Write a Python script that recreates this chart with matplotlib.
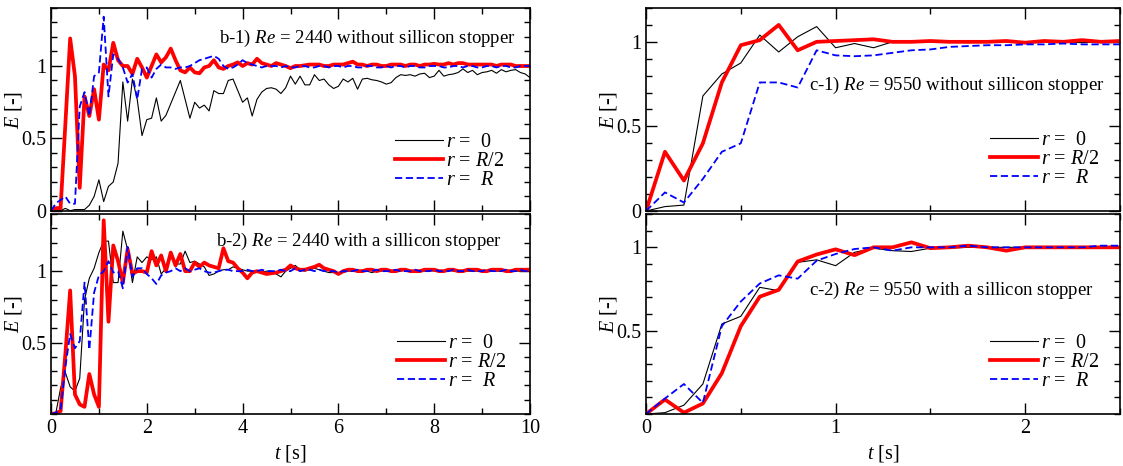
import numpy as np
import matplotlib
matplotlib.use("Agg")
import matplotlib.pyplot as plt
from matplotlib.ticker import MultipleLocator

plt.rcParams["font.family"] = ["Liberation Serif", "DejaVu Serif"]
plt.rcParams["mathtext.fontset"] = "custom"
plt.rcParams["mathtext.rm"] = "Liberation Serif"
plt.rcParams["mathtext.it"] = "Liberation Serif:italic"

# time grids [s]
t_b = np.round(np.arange(101) * 0.1, 1)
t_c = np.round(np.arange(26) * 0.1, 1)

labels = ["$r$ =  0", "$r$ = $R$/2", "$r$ =  $R$"]

# b-1) Re = 2440 without stopper
b1_center = [0, 0.007, 0.003, 0.018, 0.002, 0.01, 0.01, 0.01, 0.04, 0.10,
             0.215, 0.065, 0.17, 0.20, 0.33, 0.89, 0.62, 0.91, 0.77, 0.52,
             0.63, 0.64, 0.78, 0.62, 0.66, 0.74, 0.82, 0.90, 0.77, 0.64,
             0.75, 0.71, 0.73, 0.69, 0.83, 0.81, 0.81, 0.90, 0.91, 0.83,
             0.75, 0.78, 0.655, 0.77, 0.82, 0.845, 0.85, 0.84, 0.81, 0.85,
             0.93, 0.875, 0.93, 0.87, 0.87, 0.94, 0.90, 0.91, 0.87, 0.845,
             0.86, 0.91, 0.89, 0.915, 0.84, 0.91, 0.915, 0.905, 0.90, 0.89,
             0.875, 0.885, 0.92, 0.94, 0.935, 0.94, 0.93, 0.945, 0.95, 0.92,
             0.93, 0.97, 0.93, 0.94, 0.945, 0.955, 0.98, 0.955, 0.97, 0.94,
             0.955, 0.96, 0.97, 0.95, 0.975, 0.96, 0.97, 0.975, 0.955, 0.945,
             0.92]
b1_half = [0, 0.02, 0.02, 0.60, 1.19, 0.93, 0.16, 0.79, 0.655, 0.84,
           0.63, 1.01, 0.97, 1.16, 1.04, 1.0, 1.0, 0.945, 1.05, 0.99,
           0.92, 1.0, 1.08, 1.025, 1.06, 1.12, 1.04, 0.97, 0.956, 0.99,
           0.956, 0.95, 0.99, 1.0, 1.04, 0.99, 0.98, 1.0, 1.01, 1.025,
           1.0, 1.02, 1.01, 1.05, 1.02, 1.01, 1.0, 1.02, 1.01, 1.0,
           0.985, 1.0, 1.0, 1.005, 1.01, 1.01, 1.01, 1.0, 1.0, 1.01,
           1.01, 1.01, 1.02, 1.03, 1.01, 1.01, 1.0, 1.01, 1.01, 1.0,
           1.0, 1.01, 1.01, 1.01, 1.0, 1.01, 1.01, 1.0, 1.01, 1.01,
           1.015, 1.01, 1.01, 1.02, 1.01, 1.02, 1.02, 1.01, 1.01, 1.01,
           1.01, 1.01, 1.01, 1.0, 1.01, 1.01, 1.01, 1.0, 1.0, 1.0,
           1.0]
b1_wall = [0, 0.053, 0.076, 0.10, 0.05, 0.05, 0.72, 0.82, 0.655, 0.93,
           0.955, 1.34, 0.79, 1.08, 1.05, 0.99, 0.886, 0.945, 0.77, 0.98,
           0.99, 0.92, 0.98, 1.01, 0.99, 0.99, 0.98, 0.99, 0.99, 1.0,
           1.02, 1.04, 1.05, 1.06, 1.07, 1.05, 1.0, 0.98, 0.99, 1.01,
           1.04, 1.02, 1.01, 1.0, 0.99, 1.0, 1.0, 1.0, 0.99, 1.0,
           0.99, 0.99, 1.0, 1.0, 0.99, 0.99, 1.0, 1.0, 0.99, 1.0,
           1.0, 0.99, 1.0, 1.0, 0.99, 0.99, 1.0, 1.0, 0.99, 0.99,
           1.0, 0.99, 1.0, 1.0, 0.99, 1.0, 1.0, 0.99, 0.99, 1.0,
           1.0, 1.0, 0.99, 0.99, 1.0, 1.0, 0.99, 1.0, 1.0, 0.99,
           0.99, 1.0, 1.0, 0.99, 1.0, 1.0, 0.99, 0.99, 1.0, 1.0,
           1.0]

# b-2) Re = 2440 with stopper
b2_center = [0, 0.005, 0.18, 0.29, 0.19, 0.16, 0.25, 0.80, 0.95, 1.02,
             1.13, 1.21, 1.21, 0.92, 0.92, 1.28, 1.15, 0.92, 1.10, 1.06,
             1.10, 1.08, 1.10, 0.98, 1.02, 1.10, 1.05, 1.05, 1.14, 1.06,
             1.07, 1.05, 1.03, 0.97, 0.98, 1.0, 1.01, 1.01, 1.03, 1.02,
             1.01, 1.0, 1.0, 1.0, 0.99, 1.0, 1.0, 0.98, 0.96, 1.0,
             1.02, 1.04, 1.01, 1.0, 1.01, 1.02, 1.01, 1.0, 0.99, 0.99,
             0.98, 0.99, 1.0, 1.0, 1.01, 1.0, 1.0, 0.99, 1.0, 1.0,
             1.01, 1.0, 1.0, 1.0, 1.01, 1.0, 1.0, 1.0, 1.0, 1.01,
             1.0, 1.0, 1.0, 1.01, 1.0, 1.0, 1.0, 1.0, 1.0, 1.0,
             1.0, 1.0, 1.0, 1.0, 1.0, 1.01, 1.0, 1.0, 1.0, 1.0,
             1.0]
b2_half = [0, 0.005, 0.02, 0.42, 0.865, 0.137, 0.067, 0.05, 0.28, 0.137,
           0.05, 1.356, 0.646, 1.18, 1.07, 0.92, 1.155, 0.98, 1.0, 1.0,
           0.99, 1.14, 1.04, 1.11, 1.0, 1.13, 1.04, 1.12, 1.0, 1.0,
           1.06, 1.03, 1.06, 1.04, 1.03, 1.02, 1.16, 1.07, 1.06, 1.02,
           0.99, 0.95, 0.99, 1.0, 0.99, 0.98, 0.985, 0.99, 1.0, 1.01,
           1.04, 1.02, 1.01, 1.01, 1.02, 1.03, 1.045, 1.02, 1.01, 1.0,
           0.98, 1.0, 1.01, 1.01, 1.0, 1.0, 1.01, 1.01, 1.0, 1.01,
           1.01, 1.0, 1.0, 1.01, 1.01, 1.0, 1.0, 1.0, 1.01, 1.01,
           1.01, 1.0, 1.0, 1.01, 1.01, 1.0, 1.0, 1.01, 1.01, 1.01,
           1.0, 1.0, 1.01, 1.01, 1.01, 1.0, 1.0, 1.01, 1.01, 1.01,
           1.01]
b2_wall = [0, 0.01, 0.03, 0.33, 0.56, 0.46, 0.51, 0.92, 0.45, 0.85,
           0.97, 1.0, 1.07, 0.99, 1.0, 0.88, 1.17, 0.96, 1.02, 1.02,
           0.98, 0.95, 0.91, 0.97, 0.99, 1.0, 1.02, 1.0, 1.02, 1.0,
           1.01, 1.02, 1.0, 0.99, 0.99, 1.0, 1.01, 1.01, 1.0, 1.0,
           1.0, 1.01, 1.0, 1.0, 1.01, 1.0, 1.0, 1.0, 1.01, 1.0,
           1.0, 1.02, 1.0, 1.01, 1.01, 1.0, 1.01, 1.0, 1.0, 1.0,
           0.99, 1.0, 1.0, 1.0, 1.01, 1.0, 1.0, 1.0, 1.01, 1.0,
           1.0, 1.0, 1.01, 1.0, 1.0, 1.0, 1.01, 1.0, 1.0, 1.0,
           1.01, 1.0, 1.0, 1.0, 1.01, 1.0, 1.0, 1.01, 1.0, 1.0,
           1.0, 1.01, 1.0, 1.0, 1.0, 1.01, 1.0, 1.0, 1.01, 1.0,
           1.0]

# c-1) Re = 9550 without stopper
c1_center = [0, 0.026, 0.035, 0.68, 0.81, 0.875, 1.04, 0.94, 1.03, 1.09,
             0.965, 0.99, 0.965, 1.0, 1.0, 1.0, 1.0, 0.995, 1.0, 1.0,
             0.995, 1.0, 1.0, 0.995, 1.0, 1.0]
c1_half = [0, 0.35, 0.18, 0.40, 0.76, 0.98, 1.01, 1.10, 0.95, 1.0,
           1.005, 1.01, 1.015, 1.0, 1.0, 1.005, 1.0, 1.0, 1.0, 1.005,
           0.995, 1.005, 1.0, 1.01, 1.0, 1.005]
c1_wall = [0, 0.11, 0.05, 0.19, 0.35, 0.40, 0.76, 0.76, 0.73, 0.95,
           0.92, 0.915, 0.92, 0.935, 0.95, 0.955, 0.97, 0.975, 0.98, 0.98,
           0.985, 0.985, 0.99, 0.985, 0.985, 0.985]

# c-2) Re = 9550 with stopper
c2_center = [0, 0.008, 0.053, 0.18, 0.54, 0.586, 0.76, 0.74, 0.91, 0.925,
             0.89, 0.97, 0.995, 0.98, 0.975, 0.995, 0.995, 1.0, 1.0, 1.0,
             1.0, 1.0, 1.0, 1.0, 1.0, 1.005]
c2_half = [0, 0.087, 0.008, 0.063, 0.245, 0.527, 0.704, 0.745, 0.915, 0.957,
           0.988, 0.953, 1.0, 1.0, 1.03, 0.995, 1.0, 1.01, 1.0, 0.98,
           1.0, 1.0, 1.0, 1.0, 1.0, 1.0]
c2_wall = [0, 0.093, 0.18, 0.067, 0.527, 0.675, 0.783, 0.832, 0.812, 0.92,
           0.96, 0.99, 1.0, 0.98, 1.0, 1.0, 1.0, 1.01, 1.0, 1.0,
           1.0, 1.0, 1.0, 1.0, 1.01, 1.01]

FS = 13.5

fig = plt.figure(figsize=(11.23, 4.66), dpi=100)
W, H = 1123, 466


def box(x0, x1, y0, y1):
    return [x0 / W, 1 - y1 / H, (x1 - x0) / W, (y1 - y0) / H]


ax_b1 = fig.add_axes(box(51, 530, 8, 211))
ax_b2 = fig.add_axes(box(51, 530, 214, 414))
ax_c1 = fig.add_axes(box(646, 1120, 8, 211))
ax_c2 = fig.add_axes(box(646, 1120, 214, 414))


def draw(ax, t, center, half, wall):
    ax.plot(t, center, color="black", lw=0.8, label=labels[0])
    ax.plot(t, half, color="#ff0000", lw=2.7, label=labels[1])
    ax.plot(t, wall, color="#0000ff", lw=1.3, ls=(0, (4, 2)), label=labels[2])


def style(ax, xmax, xmaj, xmin, ymax, yticks, ylabels):
    ax.set_xlim(0, xmax)
    ax.set_ylim(0, ymax)
    ax.xaxis.set_major_locator(MultipleLocator(xmaj))
    ax.xaxis.set_minor_locator(MultipleLocator(xmin))
    ax.set_yticks(yticks)
    ax.set_yticklabels(ylabels)
    ax.yaxis.set_minor_locator(MultipleLocator(0.1))
    ax.tick_params(which="both", direction="in", top=True, right=True,
                   labelsize=FS + 1, width=1.0)
    ax.tick_params(which="major", length=8)
    ax.tick_params(which="minor", length=4)
    for s in ax.spines.values():
        s.set_linewidth(1.2)


draw(ax_b1, t_b, b1_center, b1_half, b1_wall)
draw(ax_b2, t_b, b2_center, b2_half, b2_wall)
draw(ax_c1, t_c, c1_center, c1_half, c1_wall)
draw(ax_c2, t_c, c2_center, c2_half, c2_wall)

style(ax_b1, 10, 2, 1, 1.4, [0, 0.5, 1], ["0", "0.5", "1"])
style(ax_b2, 10, 2, 1, 1.4, [0.5, 1], ["0.5", "1"])
style(ax_c1, 2.5, 1, 0.5, 1.2, [0, 0.5, 1], ["0", "0.5", "1"])
style(ax_c2, 2.5, 1, 0.5, 1.2, [0.5, 1], ["0.5", "1"])

for ax in (ax_b1, ax_c1):
    ax.tick_params(labelbottom=False)

ax_b2.set_xticks([0, 2, 4, 6, 8, 10])
ax_b2.set_xticklabels(["0", "2", "4", "6", "8", "10"])
ax_c2.set_xticks([0, 1, 2])
ax_c2.set_xticklabels(["0", "1", "2"])

for ax in (ax_b1, ax_b2):
    ax.set_ylabel("$E$ [-]", fontsize=FS + 1)
    ax.yaxis.set_label_coords(-0.057, 0.5)
for ax in (ax_c1, ax_c2):
    ax.set_ylabel("$E$ [-]", fontsize=FS + 1)
    ax.yaxis.set_label_coords(-0.056, 0.5)

for ax in (ax_b2, ax_c2):
    ax.set_xlabel("$t$ [s]", fontsize=FS + 1, labelpad=4)

ax_b1.text(0.97, 0.852, "b-1) $Re$ = 2440 without sillicon stopper",
           transform=ax_b1.transAxes, ha="right", va="center", fontsize=FS)
ax_b2.text(0.942, 0.861, "b-2) $Re$ = 2440 with a sillicon stopper",
           transform=ax_b2.transAxes, ha="right", va="center", fontsize=FS)
ax_c1.text(0.968, 0.62, "c-1) $Re$ = 9550 without sillicon stopper",
           transform=ax_c1.transAxes, ha="right", va="center", fontsize=FS)
ax_c2.text(0.945, 0.619, "c-2) $Re$ = 9550 with a sillicon stopper",
           transform=ax_c2.transAxes, ha="right", va="center", fontsize=FS)

leg_pos = {ax_b1: (0.718, 0.385), ax_b2: (0.722, 0.40),
           ax_c1: (0.726, 0.395), ax_c2: (0.726, 0.40)}
for ax, (lx, ly) in leg_pos.items():
    ax.legend(loc="upper left", bbox_to_anchor=(lx, ly), frameon=False,
              fontsize=FS + 1, borderpad=0, borderaxespad=0, labelspacing=0.0,
              handlelength=2.4, handletextpad=0.15)

fig.savefig("out.png", dpi=100)
